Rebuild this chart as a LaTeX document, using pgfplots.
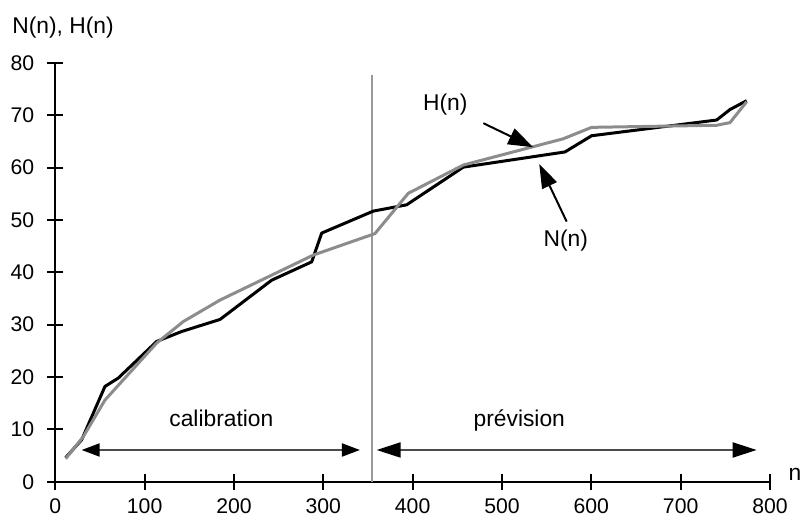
\documentclass[border=0pt]{standalone}
\usepackage{fontspec}
\setmainfont{Liberation Sans}
\usepackage{pgfplots}
\pgfplotsset{compat=1.18}
\usetikzlibrary{arrows.meta}
\definecolor{curvegray}{gray}{0.55}
\definecolor{linegray}{gray}{0.6}
\definecolor{arrowgray}{gray}{0.3}
\begin{document}
\begin{tikzpicture}
\begin{axis}[
  scale only axis, width=357.4pt, height=209.4pt,
  xmin=0, xmax=800, ymin=0, ymax=80,
  axis x line=bottom, axis y line=left,
  axis line style={-, line width=1pt, black},
  xtick={0,100,...,800}, ytick={0,10,...,80},
  tick align=center, major tick length=8pt,
  tick style={line width=1pt, black},
  ticklabel style={font=\fontsize{10.6}{12}\selectfont},
  yticklabel style={xshift=-3pt},
  xticklabel style={yshift=-1pt},
  /pgf/number format/assume math mode=true,
  clip=false,
]
\coordinate (bbl) at (axis cs:-61.9,-6.94);
\coordinate (btr) at (axis cs:833.6,92.03);
% separation line
\draw[linegray, line width=0.9pt] (axis cs:354.2,0) -- (axis cs:354.2,77.7);
% N(n)
\addplot[black, line width=1.5pt, line join=round] coordinates {
(11.6,4.6) (29.5,8.0) (55.6,18.2) (70.5,19.8) (113.5,26.8) (141.5,28.7)
(184.4,31.0) (242.2,38.5) (287,42.0) (298.2,47.5) (356,51.7) (393.3,52.9)
(456.7,60.1) (570.5,63.0) (600.4,66.1) (740.3,69.1) (755.2,71.1) (773.9,72.8)
};
% H(n)
\addplot[curvegray, line width=1.5pt, line join=round] coordinates {
(11.6,4.4) (31.3,8.6) (55.6,15.6) (113.5,26.5) (143.3,30.6) (184.4,34.7)
(288.8,43.3) (357.8,47.4) (395.1,55.1) (456.7,60.5) (568.3,65.5) (600.4,67.7)
(740.3,68.1) (755.2,68.6) (773.9,72.6)
};
% calibration / prevision arrows
\draw[arrowgray, line width=1pt, {Triangle[length=9pt,width=6.5pt,color=black]}-{Triangle[length=9pt,width=6.5pt,color=black]}]
  (axis cs:29.5,6.06) -- (axis cs:341,6.06);
\draw[arrowgray, line width=1pt, {Triangle[length=12pt,width=7.5pt,color=black]}-{Triangle[length=12pt,width=7.5pt,color=black]}]
  (axis cs:359.7,6.06) -- (axis cs:785.1,6.06);
% annotation arrows
\draw[black, line width=1pt, -{Triangle[length=12.5pt,width=8.5pt]}]
  (axis cs:479.1,68.5) -- (axis cs:535,63.9);
\draw[black, line width=1pt, -{Triangle[length=12pt,width=8pt]}]
  (axis cs:572.4,49.7) -- (axis cs:541.7,60.7);
% labels
\node[anchor=base west, inner sep=0pt, font=\fontsize{11.4}{13}\selectfont] at (axis cs:411.2,71.0) {H(n)};
\node[anchor=base west, inner sep=0pt, font=\fontsize{11.4}{13}\selectfont] at (axis cs:546.2,44.9) {N(n)};
\node[anchor=base west, inner sep=0pt, font=\fontsize{11.4}{13}\selectfont] at (axis cs:127.3,10.5) {calibration};
\node[anchor=base west, inner sep=0pt, font=\fontsize{11.4}{13}\selectfont] at (axis cs:467.9,10.5) {prévision};
\node[anchor=base west, inner sep=0pt, font=\fontsize{11.4}{13}\selectfont] at (axis cs:820.5,0.3) {n};
\node[anchor=base west, inner sep=0pt, font=\fontsize{11.4}{13}\selectfont] at (axis cs:-48.5,85.7) {N(n), H(n)};
\end{axis}
\pgfresetboundingbox
\path (bbl) rectangle (btr);
\end{tikzpicture}
\end{document}
